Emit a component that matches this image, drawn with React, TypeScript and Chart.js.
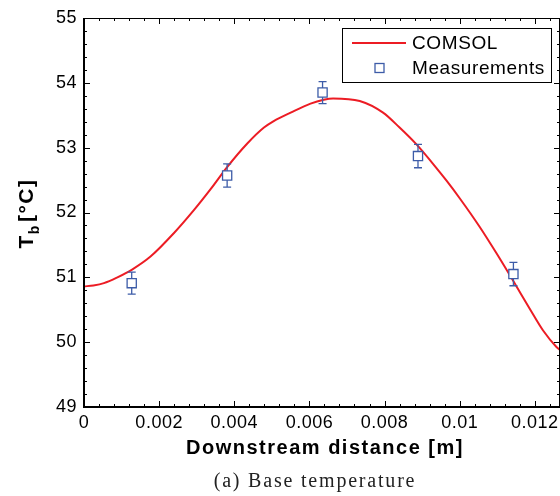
import { useEffect, useRef } from 'react';
import { Chart, registerables } from 'chart.js';

Chart.register(...registerables);

// ---- data ----
const curveX = [0, 0.00025, 0.00053, 0.00089, 0.00128, 0.00177, 0.00239, 0.00293, 0.00337, 0.00381, 0.00434, 0.00479, 0.00505, 0.0055, 0.00603, 0.00638, 0.00663, 0.00734, 0.00796, 0.0084, 0.00885, 0.00929, 0.00965, 0.01, 0.01053, 0.01098, 0.01142, 0.01186, 0.01222, 0.01257, 0.01267];
const curveT = [50.86, 50.875, 50.91, 51.0, 51.12, 51.32, 51.68, 52.04, 52.36, 52.7, 53.06, 53.31, 53.41, 53.54, 53.68, 53.74, 53.76, 53.72, 53.54, 53.31, 53.05, 52.75, 52.49, 52.22, 51.78, 51.37, 50.95, 50.52, 50.18, 49.93, 49.88];

const measX = [0.00127, 0.00381, 0.00635, 0.00889, 0.01143];
const measT = [50.91, 52.57, 53.85, 52.87, 51.05];
const measErr = [0.17, 0.18, 0.17, 0.18, 0.18];

const xTicks = [0, 0.002, 0.004, 0.006, 0.008, 0.01, 0.012];
const yTicks = [49, 50, 51, 52, 53, 54, 55];
const X_MIN = 0;
const X_MAX = 0.01267;
const Y_MIN = 49;
const Y_MAX = 55;
const X_MINOR = 0.0004;
const Y_MINOR = 0.2;

const SERIES_LINE = 'COMSOL';
const SERIES_MEAS = 'Measurements';
const X_TITLE = 'Downstream distance [m]';
const CAPTION = '(a) Base temperature';

const RED = '#ec1c24';
const BLUE = '#3d5ca8';
const SANS = '"Liberation Sans", Arial, Helvetica, sans-serif';

const errorBars = {
  id: 'errorBars',
  beforeDatasetDraw(chart: any, args: any) {
    if (args.index !== 0) return;
    const { ctx, scales } = chart;
    const { x, y } = scales;
    ctx.save();
    ctx.strokeStyle = BLUE;
    ctx.lineWidth = 1.3;
    measX.forEach((vx, i) => {
      const px = x.getPixelForValue(vx);
      const pt = y.getPixelForValue(measT[i] + measErr[i]);
      const pb = y.getPixelForValue(measT[i] - measErr[i]);
      ctx.beginPath();
      ctx.moveTo(px, pt);
      ctx.lineTo(px, pb);
      ctx.moveTo(px - 4, pt);
      ctx.lineTo(px + 4, pt);
      ctx.moveTo(px - 4, pb);
      ctx.lineTo(px + 4, pb);
      ctx.stroke();
    });
    ctx.restore();
  },
};

const framePlugin = {
  id: 'frame',
  beforeDraw(chart: any) {
    chart.ctx.letterSpacing = '0.5px';
  },
  afterDatasetsDraw(chart: any) {
    const { ctx, chartArea, scales } = chart;
    const { left, right, top, bottom } = chartArea;
    const { x, y } = scales;
    ctx.save();
    ctx.strokeStyle = '#000';
    ctx.lineWidth = 1;
    ctx.beginPath();
    const nx = Math.round((X_MAX - X_MIN) / X_MINOR);
    for (let i = 0; i <= nx; i++) {
      const px = Math.round(x.getPixelForValue(X_MIN + i * X_MINOR)) + 0.5;
      const len = i % 5 === 0 ? 6 : 3;
      ctx.moveTo(px, bottom);
      ctx.lineTo(px, bottom - len);
      ctx.moveTo(px, top);
      ctx.lineTo(px, top + len);
    }
    const ny = Math.round((Y_MAX - Y_MIN) / Y_MINOR);
    for (let i = 0; i <= ny; i++) {
      const py = Math.round(y.getPixelForValue(Y_MIN + i * Y_MINOR)) + 0.5;
      const len = i % 5 === 0 ? 6 : 3;
      ctx.moveTo(left, py);
      ctx.lineTo(left + len, py);
      ctx.moveTo(right, py);
      ctx.lineTo(right - len, py);
    }
    ctx.stroke();
    // frame
    ctx.lineWidth = 1;
    ctx.strokeRect(left + 0.5, top + 0.5, right - left - 1, bottom - top);
    ctx.lineWidth = 2;
    ctx.beginPath();
    ctx.moveTo(left, top);
    ctx.lineTo(left, bottom);
    ctx.lineTo(right, bottom);
    ctx.stroke();
    ctx.restore();
  },
  afterDraw(chart: any) {
    const { ctx, chartArea } = chart;
    const { left, right, top, bottom } = chartArea;
    ctx.save();
    ctx.fillStyle = '#000';

    // x title
    ctx.letterSpacing = '1.5px';
    ctx.font = `bold 20px ${SANS}`;
    ctx.textAlign = 'center';
    ctx.textBaseline = 'alphabetic';
    ctx.fillText(X_TITLE, (left + right) / 2 + 3, bottom + 47);

    // y title with subscript
    ctx.save();
    ctx.translate(33, (top + bottom) / 2 + 1);
    ctx.rotate(-Math.PI / 2);
    ctx.textAlign = 'left';
    const big = `bold 21px ${SANS}`;
    const small = `bold 14px ${SANS}`;
    ctx.font = big;
    const wT = ctx.measureText('T').width;
    const wC = ctx.measureText('[°C]').width;
    ctx.font = small;
    const wb = ctx.measureText('b').width;
    const gap = 2;
    const total = wT + wb + gap + wC;
    let cx = -total / 2;
    ctx.font = big;
    ctx.fillText('T', cx, 0);
    cx += wT;
    ctx.font = small;
    ctx.fillText('b', cx, 6);
    cx += wb + gap;
    ctx.font = big;
    ctx.fillText('[°C]', cx, 0);
    ctx.restore();

    // legend
    const lx = right - 218;
    const ly = top + 10;
    const lw = 209;
    const lh = 54;
    ctx.fillStyle = '#fff';
    ctx.fillRect(lx, ly, lw, lh);
    ctx.strokeStyle = '#000';
    ctx.lineWidth = 1;
    ctx.strokeRect(lx + 0.5, ly + 0.5, lw, lh);
    const row1 = ly + 15;
    const row2 = ly + 40;
    ctx.strokeStyle = RED;
    ctx.lineWidth = 2;
    ctx.beginPath();
    ctx.moveTo(lx + 10, row1);
    ctx.lineTo(lx + 64, row1);
    ctx.stroke();
    ctx.strokeStyle = BLUE;
    ctx.lineWidth = 1.3;
    ctx.fillStyle = '#fff';
    ctx.fillRect(lx + 33, row2 - 4.5, 9, 9);
    ctx.strokeRect(lx + 33, row2 - 4.5, 9, 9);
    ctx.fillStyle = '#000';
    ctx.font = `19px ${SANS}`;
    ctx.letterSpacing = '0.6px';
    ctx.textBaseline = 'middle';
    ctx.textAlign = 'left';
    ctx.fillText(SERIES_LINE, lx + 70, row1 + 1);
    ctx.fillText(SERIES_MEAS, lx + 70, row2 + 1);
    ctx.restore();
    ctx.letterSpacing = '0px';
  },
};

function fmt(v: number) {
  return String(Number(v.toFixed(4)));
}

export default function App() {
  const ref = useRef<HTMLCanvasElement | null>(null);
  useEffect(() => {
    if (!ref.current) return;
    const chart = new Chart(ref.current, {
      type: 'scatter',
      data: {
        datasets: [
          {
            label: SERIES_MEAS,
            data: measX.map((x, i) => ({ x, y: measT[i] })),
            pointStyle: 'rect',
            pointRadius: 6.5,
            pointBorderWidth: 1.3,
            borderColor: BLUE,
            backgroundColor: '#ffffff',
            showLine: false,
          },
          {
            label: SERIES_LINE,
            data: curveX.map((x, i) => ({ x, y: curveT[i] })),
            showLine: true,
            borderColor: RED,
            backgroundColor: RED,
            borderWidth: 2,
            pointRadius: 0,
            cubicInterpolationMode: 'monotone',
            fill: false,
          },
        ],
      },
      options: {
        animation: false,
        responsive: false,
        devicePixelRatio: 1,
        layout: { autoPadding: false, padding: { top: 18, right: -1, left: 0, bottom: 0 } },
        plugins: { legend: { display: false }, tooltip: { enabled: false } },
        scales: {
          x: {
            type: 'linear',
            min: X_MIN,
            max: X_MAX,
            grid: { display: false, drawTicks: false },
            border: { display: false },
            ticks: {
              autoSkip: false,
              maxRotation: 0,
              includeBounds: false,
              padding: 5,
              color: '#000',
              font: { family: SANS, size: 18 },
              callback: (v: any) => fmt(Number(v)),
            },
            afterBuildTicks: (s: any) => {
              s.ticks = xTicks.map((value) => ({ value }));
            },
            afterFit: (s: any) => {
              s.height = 89;
              s.paddingLeft = 0;
              s.paddingRight = 0;
            },
          },
          y: {
            type: 'linear',
            min: Y_MIN,
            max: Y_MAX,
            grid: { display: false, drawTicks: false },
            border: { display: false },
            ticks: {
              autoSkip: false,
              padding: 7,
              color: '#000',
              font: { family: SANS, size: 18 },
              callback: (v: any) => fmt(Number(v)),
            },
            afterBuildTicks: (s: any) => {
              s.ticks = yTicks.map((value) => ({ value }));
            },
            afterFit: (s: any) => {
              s.width = 84;
              s.paddingTop = 0;
              s.paddingBottom = 0;
            },
          },
        },
      },
      plugins: [errorBars, framePlugin],
    } as any);
    return () => chart.destroy();
  }, []);

  return (
    <div style={{ position: 'fixed', left: 0, top: 0, width: 560, height: 496, background: '#fff', overflow: 'hidden' }}>
      <canvas ref={ref} width={560} height={496} style={{ display: 'block', width: 560, height: 496 }} />
      <div
        style={{
          position: 'absolute',
          left: 315,
          top: 469,
          transform: 'translateX(-50%)',
          whiteSpace: 'nowrap',
          fontFamily: '"Liberation Serif", "Times New Roman", serif',
          fontSize: 20,
          letterSpacing: '1.8px',
          color: '#222',
          lineHeight: '23px',
        }}
      >
        {CAPTION}
      </div>
    </div>
  );
}
